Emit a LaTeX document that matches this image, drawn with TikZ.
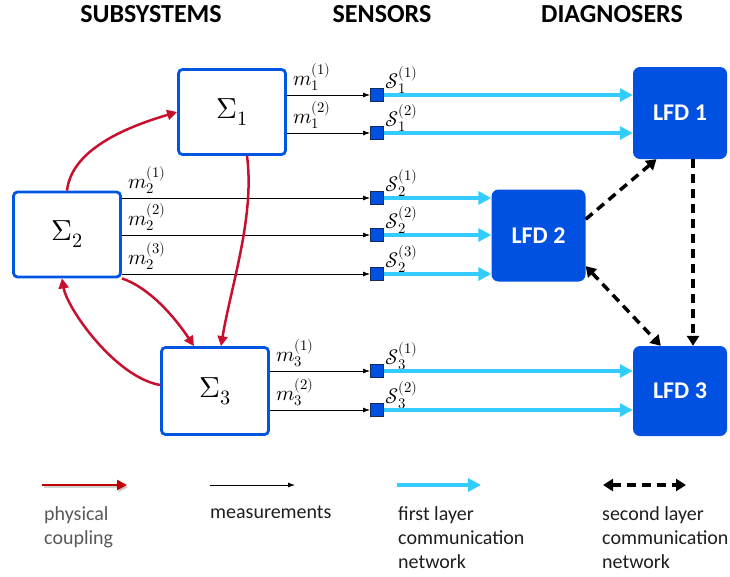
\documentclass[tikz,border=0pt]{standalone}
\usepackage{fontspec}
\usepackage{unicode-math}
\setmathfont{Latin Modern Math}
\newfontfamily\calibri{Carlito}
\usetikzlibrary{arrows.meta}

\definecolor{sysblue}{RGB}{0,85,225}
\definecolor{lfdblue}{RGB}{0,80,225}
\definecolor{netblue}{RGB}{51,204,255}
\definecolor{couple}{RGB}{200,16,46}
\definecolor{legred}{RGB}{192,0,0}
\definecolor{sensedge}{RGB}{20,40,90}
\definecolor{leggray}{RGB}{89,89,89}
\definecolor{legtext}{RGB}{30,30,30}

\begin{document}
\begin{tikzpicture}[x=1pt,y=-1pt,
  subsys/.style={draw=sysblue,line width=2.8pt,rounded corners=4pt,fill=white,
    minimum width=107pt,minimum height=85pt,inner sep=0pt,
    font=\fontsize{29}{32}\selectfont},
  lfd/.style={fill=lfdblue,rounded corners=7pt,minimum width=94pt,minimum height=92pt,
    inner sep=0pt,text=white,font=\calibri\bfseries\fontsize{24}{27}\selectfont},
  sensor/.style={draw=sensedge,fill=lfdblue,line width=0.9pt,minimum size=13pt,inner sep=0pt},
  meas/.style={draw=black,line width=0.8pt,-{Latex[length=7pt,width=5pt]}},
  first/.style={draw=netblue,line width=4pt,-{Triangle[length=13pt,width=13pt]}},
  second/.style={draw=black,line width=3.5pt,dash pattern=on 9pt off 6pt,
    -{Triangle[length=10pt,width=12pt]}},
  second2/.style={second,{Triangle[length=10pt,width=12pt]}-{Triangle[length=10pt,width=12pt]}},
  coupling/.style={draw=couple,line width=2.5pt,-{Triangle[length=10pt,width=10pt]}},
  mlab/.style={anchor=base west,inner sep=0pt,xshift=6pt,yshift=10pt,
    font=\fontsize{21}{24}\selectfont},
  slab/.style={anchor=base west,inner sep=0pt,xshift=8pt,yshift=7pt,
    font=\fontsize{21}{24}\selectfont},
  head/.style={inner sep=0pt,font=\calibri\bfseries\fontsize{26}{29}\selectfont},
  legtxt/.style={anchor=north west,inner sep=0pt,align=left,text=legtext,
    font=\calibri\fontsize{20}{24}\selectfont}
]
\useasboundingbox (0,0) rectangle (730,576);

% column headings
\node[head] (hsub)  at (151,14) {SUBSYSTEMS};
\node[head] (hsens) at (382,14) {SENSORS};
\node[head] (hdiag) at (612,14) {DIAGNOSERS};

% subsystems
\node[subsys] (sig1) at (232,112) {$\Sigma_1$};
\node[subsys] (sig2) at (67,234.5) {$\Sigma_2$};
\node[subsys,minimum height=87pt] (sig3) at (215,391) {$\Sigma_3$};

% local fault diagnosers
\node[lfd] (lfd1) at (680,113) {LFD 1};
\node[lfd] (lfd2) at (538.5,235.5) {LFD 2};
\node[lfd,minimum height=90pt] (lfd3) at (680,391) {LFD 3};

% sensors
\node[sensor] (s11) at (377,95)  {};
\node[sensor] (s12) at (377,133) {};
\node[sensor] (s21) at (377,198) {};
\node[sensor] (s22) at (377,235) {};
\node[sensor] (s23) at (377,274) {};
\node[sensor] (s31) at (377,371) {};
\node[sensor] (s32) at (377,410) {};

% measurements
\draw[meas] (sig1.east |- s11) node[mlab] {$m_1^{(1)}$} -- (s11.west);
\draw[meas] (sig1.east |- s12) node[mlab] {$m_1^{(2)}$} -- (s12.west);
\draw[meas] (sig2.east |- s21) node[mlab] {$m_2^{(1)}$} -- (s21.west);
\draw[meas] (sig2.east |- s22) node[mlab] {$m_2^{(2)}$} -- (s22.west);
\draw[meas] (sig2.east |- s23) node[mlab] {$m_2^{(3)}$} -- (s23.west);
\draw[meas] (sig3.east |- s31) node[mlab] {$m_3^{(1)}$} -- (s31.west);
\draw[meas] (sig3.east |- s32) node[mlab] {$m_3^{(2)}$} -- (s32.west);

% sensor labels
\node[slab] at (s11.center) {$\mathcal{S}_1^{(1)}$};
\node[slab] at (s12.center) {$\mathcal{S}_1^{(2)}$};
\node[slab] at (s21.center) {$\mathcal{S}_2^{(1)}$};
\node[slab] at (s22.center) {$\mathcal{S}_2^{(2)}$};
\node[slab] at (s23.center) {$\mathcal{S}_2^{(3)}$};
\node[slab] at (s31.center) {$\mathcal{S}_3^{(1)}$};
\node[slab] at (s32.center) {$\mathcal{S}_3^{(2)}$};

% first layer communication network
\draw[first] (s11.east) -- (lfd1.west |- s11);
\draw[first] (s12.east) -- (lfd1.west |- s12);
\draw[first] (s21.east) -- (lfd2.west |- s21);
\draw[first] (s22.east) -- (lfd2.west |- s22);
\draw[first] (s23.east) -- (lfd2.west |- s23);
\draw[first] (s31.east) -- (lfd3.west |- s31);
\draw[first] (s32.east) -- (lfd3.west |- s32);

% second layer communication network
\draw[second] (lfd2.19) -- (lfd1.243);
\draw[second2] (lfd2.-33) -- (lfd3.113);
\draw[second] ([xshift=13pt]lfd1.south) -- ([xshift=13pt]lfd3.north);

% physical coupling
\draw[coupling] (sig2.north) .. controls +(5,-45) and +(-40,12) .. (sig1.west);
\draw[coupling] ([xshift=15pt]sig1.south) .. controls +(8,60) and +(10,-60) .. ([xshift=6pt]sig3.north);
\draw[coupling] (sig2.south east) .. controls +(27,9) and +(-20,-30) .. ([xshift=-21pt]sig3.north);
\draw[coupling] ([shift={(0,-6)}]sig3.west) .. controls +(-45,-8) and +(5,30) .. ([xshift=-5pt]sig2.south);

% legend
\coordinate (lra) at (42,485);  \coordinate (lrb) at (127,485);
\coordinate (lma) at (210,485); \coordinate (lmb) at (295,485);
\coordinate (lfa) at (397,485); \coordinate (lfb) at (481,485);
\coordinate (lsa) at (603,485); \coordinate (lsb) at (686,485);
\draw[draw=black!35,line width=2.5pt,opacity=0.5,-{Triangle[length=10pt,width=10pt]}]
  ([shift={(1.5,2)}]lra) -- ([shift={(1.5,2)}]lrb);
\draw[coupling,draw=legred] (lra) -- (lrb);
\draw[meas] (lma) -- (lmb);
\draw[first] (lfa) -- (lfb);
\draw[second2] (lsa) -- (lsb);

\node[legtxt,text=leggray] (tphys) at (44,506) {physical\\coupling};
\node[legtxt] (tmeas) at (210,506) {measurements};
\node[legtxt] (tfirst) at (398,506) {first layer\\communication\\network};
\node[legtxt] (tsecond) at (602,506) {second layer\\communication\\network};
\end{tikzpicture}
\end{document}
